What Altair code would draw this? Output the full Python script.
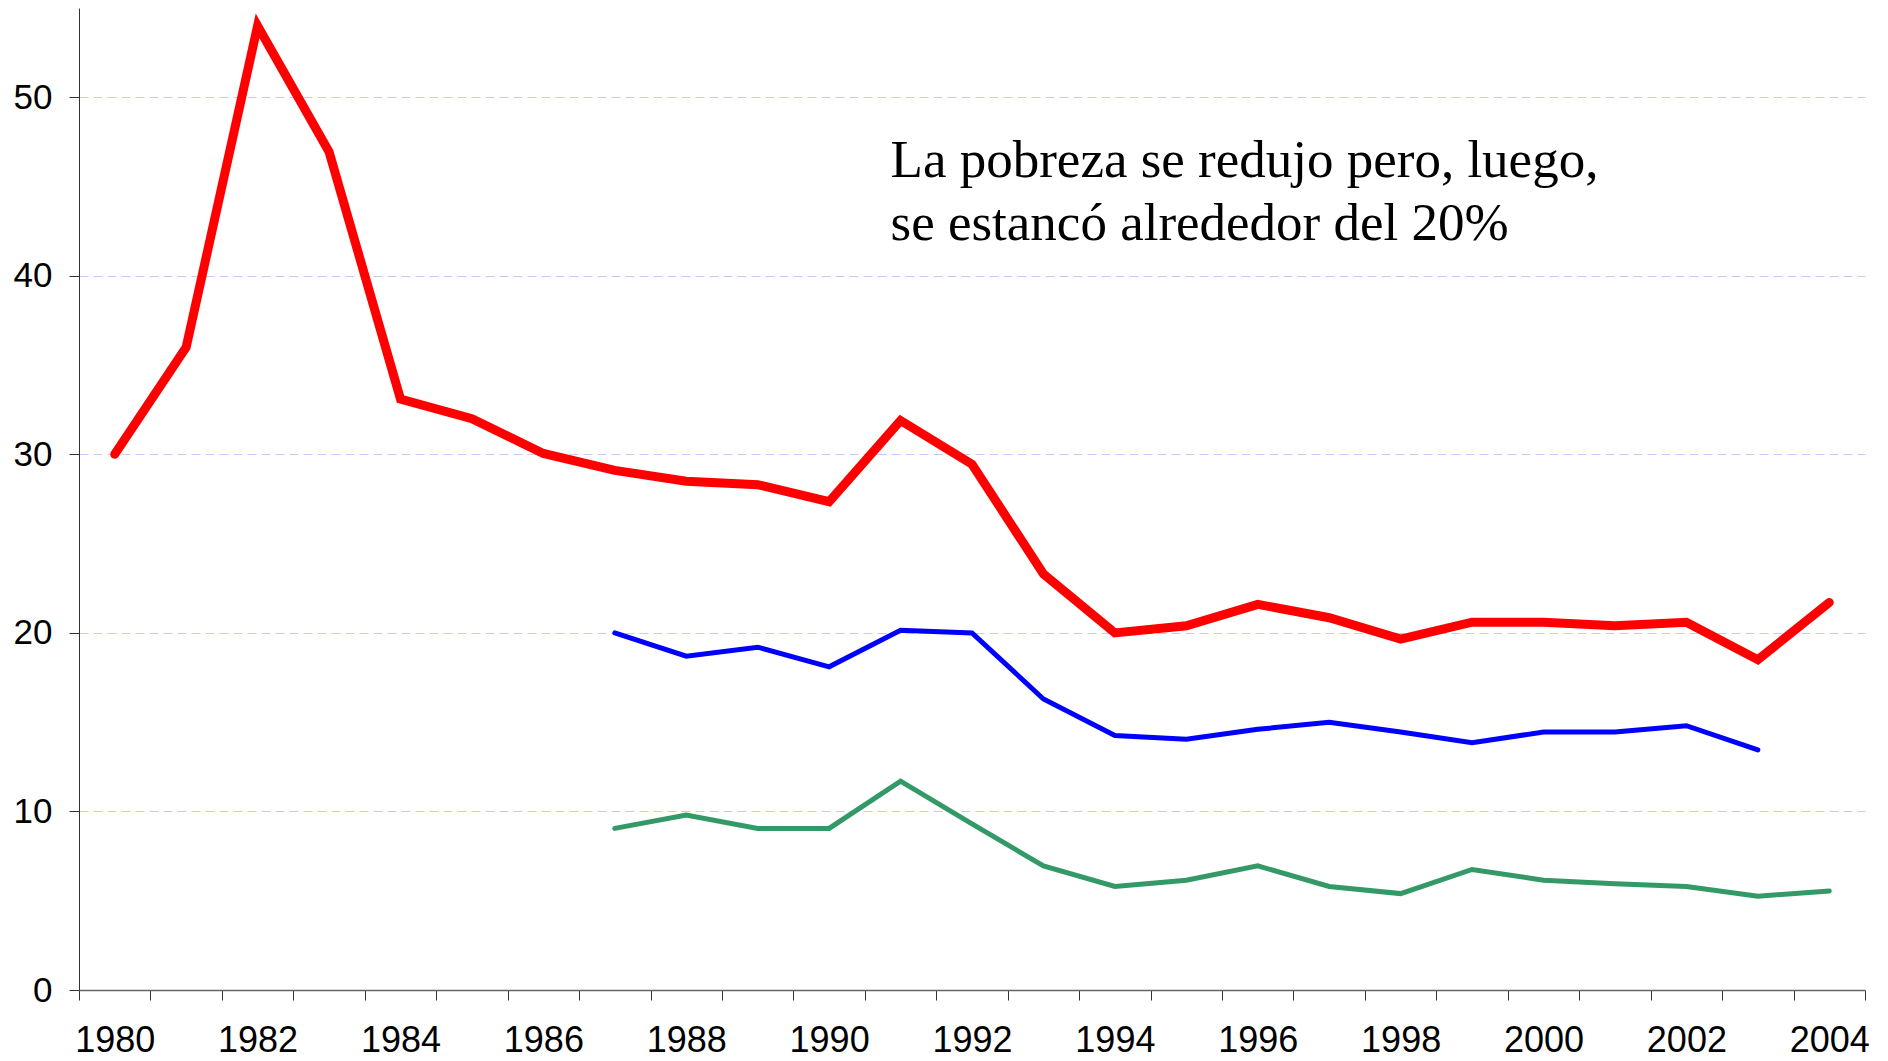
import altair as alt
import pandas as pd

# Serie roja (pobreza total)
red_years = list(range(1980, 2005))
red_vals = [30.0, 36.0, 54.0, 46.95, 33.1, 32.0, 30.05, 29.1, 28.5, 28.3, 27.35,
            31.9, 29.45, 23.3, 20.0, 20.4, 21.6, 20.85, 19.65, 20.6, 20.6, 20.4,
            20.6, 18.5, 21.7]

# Serie azul
blue_years = list(range(1987, 2004))
blue_vals = [20.0, 18.7, 19.2, 18.1, 20.15, 20.0, 16.3, 14.25, 14.05, 14.6, 15.0,
             14.45, 13.85, 14.45, 14.45, 14.8, 13.45]

# Serie verde
green_years = list(range(1987, 2005))
green_vals = [9.05, 9.8, 9.05, 9.05, 11.7, 9.3, 6.95, 5.8, 6.15, 6.95, 5.8, 5.4,
              6.75, 6.15, 5.95, 5.8, 5.25, 5.55]

annotation_text = "La pobreza se redujo pero, luego,\nse estancó alrededor del 20%"
annot_year = 1990.86
annot_value = 45.55

y_ticks = [0, 10, 20, 30, 40, 50]
x_tick_values = [y + 0.5 for y in range(1979, 2005)] + list(range(1980, 2005, 2))

df = pd.concat([
    pd.DataFrame({"year": red_years, "value": red_vals, "serie": "total"}),
    pd.DataFrame({"year": blue_years, "value": blue_vals, "serie": "azul"}),
    pd.DataFrame({"year": green_years, "value": green_vals, "serie": "verde"}),
])

x_scale = alt.Scale(domain=[1979.5, 2004.5], nice=False, zero=False)
y_scale = alt.Scale(domain=[0, 55], nice=False)

x_axis = alt.Axis(
    values=x_tick_values,
    labelExpr="datum.value % 2 === 0 ? '' + datum.value : ''",
    tickOpacity={"condition": {"test": "datum.value % 1 === 0", "value": 0}, "value": 1},
    tickSize=10, tickColor="#333333", tickWidth=1,
    domainColor="#666666", domainWidth=1.5,
    labelFont="Liberation Sans", labelFontSize=36, labelColor="#000000",
    labelBaseline="alphabetic", labelPadding=51, labelOverlap=False, labelFlush=False,
    grid=False, title=None,
)
y_axis = alt.Axis(
    values=y_ticks,
    tickSize=10, tickColor="#333333", tickWidth=1,
    domainColor="#333333", domainWidth=1,
    labelFont="Liberation Sans", labelFontSize=35, labelColor="#000000",
    labelPadding=17,
    grid=True, gridColor="#c8c8fa", gridDash=[9, 5], gridWidth=1.2,
    title=None,
)

base = alt.Chart(df)


def series_line(name, color, width):
    return base.transform_filter(alt.datum.serie == name).mark_line(
        color=color, strokeWidth=width, strokeCap="round", strokeJoin="miter"
    ).encode(
        x=alt.X("year:Q", scale=x_scale, axis=x_axis),
        y=alt.Y("value:Q", scale=y_scale, axis=y_axis),
    )


green = series_line("verde", "#339966", 5)
blue = series_line("azul", "#0000ff", 5)
red = series_line("total", "#ff0000", 9)

text = alt.Chart(pd.DataFrame({"year": [annot_year], "value": [annot_value], "t": [annotation_text]})).mark_text(
    align="left", baseline="alphabetic", font="Liberation Serif", fontSize=53,
    lineBreak="\n", lineHeight=63, color="#000000"
).encode(
    x=alt.X("year:Q", scale=x_scale),
    y=alt.Y("value:Q", scale=y_scale),
    text="t:N",
)

chart = alt.layer(green, blue, red, text).properties(
    width=1786, height=982,
    background="white",
    autosize=alt.AutoSizeParams(type="none"),
    padding={"left": 71, "top": 0, "right": 15, "bottom": 70},
).configure_view(stroke="transparent", strokeWidth=0)

chart.save("out.html", embed_options={"renderer": "svg", "actions": False})
